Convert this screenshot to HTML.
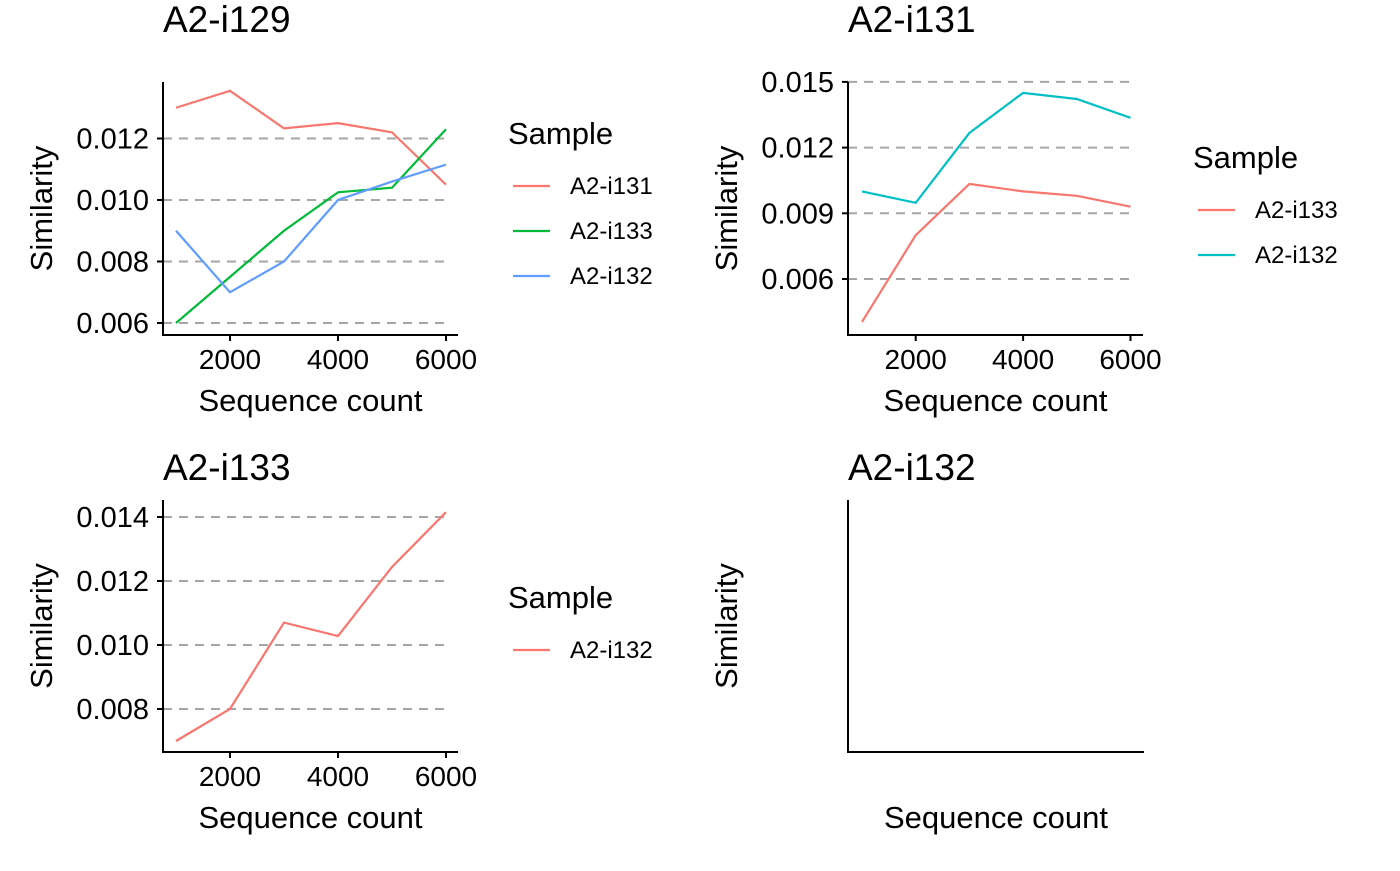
<!DOCTYPE html>
<html><head><meta charset="utf-8"><style>
body{margin:0;background:#fff;}
svg text{font-family:"Liberation Sans",Arial,sans-serif;fill:#000;}
</style></head><body>
<svg id="c" width="1400" height="866" xmlns="http://www.w3.org/2000/svg"></svg>
<script>
const xs = [1000,2000,3000,4000,5000,6000];
const xTicks = [2000,4000,6000];
// panel 1 (A2-i129)
const p1Names = ["A2-i131","A2-i133","A2-i132"];
const p1Red = [0.0130,0.01355,0.01233,0.0125,0.0122,0.0105];
const p1Green = [0.0060,0.0075,0.0090,0.01025,0.0104,0.0123];
const p1Blue = [0.0090,0.0070,0.0080,0.0100,0.0106,0.01115];
const p1Ticks = [0.006,0.008,0.010,0.012];
// panel 2 (A2-i131)
const p2Names = ["A2-i133","A2-i132"];
const p2Red = [0.00404,0.0080,0.01034,0.0100,0.0098,0.0093];
const p2Teal = [0.0100,0.00948,0.01267,0.0145,0.01422,0.01336];
const p2Ticks = [0.006,0.009,0.012,0.015];
// panel 3 (A2-i133)
const p3Names = ["A2-i132"];
const p3Red = [0.0070,0.0080,0.0107,0.01028,0.01244,0.01415];
const p3Ticks = [0.008,0.010,0.012,0.014];

const NS="http://www.w3.org/2000/svg";
const svg=document.getElementById('c');
function mk(tag,attrs,parent){const e=document.createElementNS(NS,tag);for(const k in attrs)e.setAttribute(k,attrs[k]);(parent||svg).appendChild(e);return e;}
function txt(s,attrs,parent){const e=mk('text',attrs,parent);e.textContent=s;return e;}

function panel(o){
  const g=mk('g',{});
  
  
  const X=v=>o.x0+(v-1000)/1000*o.xs;
  const Y=v=>o.y0-(v-o.v0)/o.vs*o.ys;
  const t=txt(o.title,{x:o.ax,y:o.titleY,'font-size':37},g);
  
  
  if(o.ticks){
    o.ticks.forEach(v=>{
      const l=mk('line',{x1:o.ax,x2:o.right-12,y1:Y(v),y2:Y(v),stroke:'#a6a6a6','stroke-width':2,'stroke-dasharray':'9,7'},g);
      
      
      mk('line',{x1:o.ax-6,x2:o.ax,y1:Y(v),y2:Y(v),stroke:'#000','stroke-width':2},g);
      const tl=txt(v.toFixed(3),{x:o.ax-14,y:Y(v)+10,'font-size':29,'text-anchor':'end'},g);
      
      
    });
    xTicks.forEach(v=>{
      mk('line',{x1:X(v),x2:X(v),y1:o.bottom,y2:o.bottom+6,stroke:'#000','stroke-width':2},g);
      const tl=txt(String(v),{x:X(v),y:o.bottom+34,'font-size':28,'text-anchor':'middle'},g);
      
      
    });
  }
  mk('line',{x1:o.ax,x2:o.ax,y1:o.top,y2:o.bottom+1,stroke:'#000','stroke-width':2},g);
  mk('line',{x1:o.ax-1,x2:o.right,y1:o.bottom,y2:o.bottom,stroke:'#000','stroke-width':2},g);
  const xt=txt('Sequence count',{x:(o.ax+o.right)/2,y:o.bottom+76,'font-size':31,'text-anchor':'middle'},g);
  
  
  const yc=(o.top+o.bottom)/2;
  const yt=txt('Similarity',{x:0,y:0,'font-size':31,'text-anchor':'middle',transform:`translate(${o.ax-111},${yc}) rotate(-90)`},g);
  
  
  (o.series||[]).forEach((s,i)=>{
    const p=mk('polyline',{points:xs.map((x,j)=>X(x)+','+Y(s.v[j])).join(' '),fill:'none',stroke:s.c,'stroke-width':2.2},g);
    
    
  });
  if(o.legend){
    const L=o.legend;
    const lg=mk('g',{},g);
    
    
    txt('Sample',{x:L.x,y:L.y,'font-size':31},lg);
    o.series.forEach((s,i)=>{
      const yy=L.y+42+i*45;
      const e=mk('g',{},lg);
      
      
      mk('line',{x1:L.x+5,x2:L.x+42,y1:yy,y2:yy,stroke:s.c,'stroke-width':2.2},e);
      txt(s.n,{x:L.x+62,y:yy+8,'font-size':24},e);
    });
  }
}
panel({id:'panel-a2-i129',title:'A2-i129',titleY:32,ax:163,top:82,bottom:335,right:458,x0:176,xs:54,v0:0.006,vs:0.002,y0:323,ys:61.5,ticks:p1Ticks,
  series:[{n:p1Names[0],v:p1Red,c:'#f8766d'},{n:p1Names[1],v:p1Green,c:'#00ba38'},{n:p1Names[2],v:p1Blue,c:'#619cff'}],legend:{x:508,y:144}});
panel({id:'panel-a2-i131',title:'A2-i131',titleY:32,ax:848,top:82,bottom:335,right:1143,x0:862,xs:53.7,v0:0.006,vs:0.003,y0:279,ys:65.7,ticks:p2Ticks,
  series:[{n:p2Names[0],v:p2Red,c:'#f8766d'},{n:p2Names[1],v:p2Teal,c:'#00bfc4'}],legend:{x:1193,y:168}});
panel({id:'panel-a2-i133',title:'A2-i133',titleY:480,ax:163,top:500,bottom:752,right:458,x0:176,xs:54,v0:0.008,vs:0.002,y0:709,ys:64,ticks:p3Ticks,
  series:[{n:p3Names[0],v:p3Red,c:'#f8766d'}],legend:{x:508,y:608}});
panel({id:'panel-a2-i132',title:'A2-i132',titleY:480,ax:848,top:500,bottom:752,right:1144,x0:862,xs:53.7,v0:0,vs:1,y0:0,ys:1,ticks:null,series:[]});
</script>
</body></html>
